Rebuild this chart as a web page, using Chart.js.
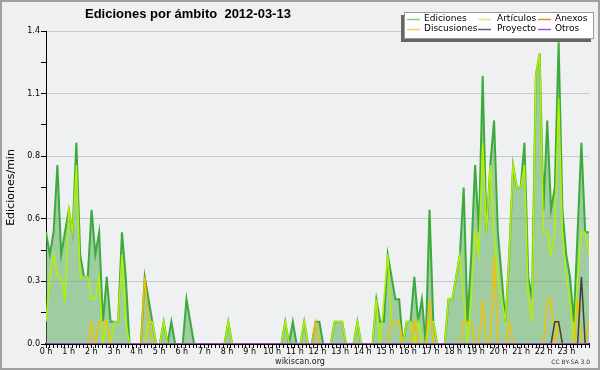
<!DOCTYPE html>
<html>
<head>
<meta charset="utf-8">
<script src="https://cdn.jsdelivr.net/npm/chart.js@4.4.1/dist/chart.umd.min.js"></script>
<style>
  html, body { margin: 0; padding: 0; background: #f0f0f0; overflow: hidden; }
</style>
</head>
<body>
<canvas id="grafico" width="600" height="370"></canvas>
<script>
// valores cada 10 min, 0 h .. 24 h (ediciones por minuto)
const ediciones = [
  0.5, 0.4, 0.5, 0.8, 0.4, 0.5, 0.6, 0.5, 0.9, 0.4,
  0.3, 0.3, 0.6, 0.4, 0.5, 0.1, 0.3, 0.1, 0.1, 0.1,
  0.5, 0.3, 0, 0, 0, 0, 0.3, 0.2, 0.1, 0,
  0, 0.1, 0, 0.1, 0, 0, 0, 0.2, 0.1, 0,
  0, 0, 0, 0, 0, 0, 0, 0, 0.1, 0,
  0, 0, 0, 0, 0, 0, 0, 0, 0, 0,
  0, 0, 0, 0.1, 0, 0.1, 0, 0, 0.1, 0,
  0, 0.1, 0.1, 0, 0, 0, 0.1, 0.1, 0.1, 0,
  0, 0, 0.1, 0, 0, 0, 0, 0.2, 0.1, 0.1,
  0.4, 0.3, 0.2, 0.2, 0, 0.1, 0.1, 0.3, 0.1, 0.2,
  0, 0.6, 0.1, 0, 0, 0, 0.2, 0.2, 0.3, 0.4,
  0.7, 0.1, 0.4, 0.8, 0.5, 1.2, 0.5, 0.8, 1.0, 0.5,
  0.3, 0.1, 0.4, 0.8, 0.7, 0.7, 0.9, 0.3, 0.2, 1.2,
  1.3, 0.6, 1.0, 0.6, 0.7, 1.35, 0.6, 0.4, 0.3, 0.1,
  0.5, 0.9, 0.5, 0.5
];
const articulos = [
  0.1, 0.3, 0.4, 0.3, 0.3, 0.2, 0.6, 0.5, 0.8, 0.3,
  0.3, 0.3, 0.2, 0.2, 0.3, 0, 0.1, 0, 0.1, 0.1,
  0.4, 0.1, 0, 0, 0, 0, 0, 0.1, 0.1, 0,
  0, 0.1, 0, 0, 0, 0, 0, 0, 0, 0,
  0, 0, 0, 0, 0, 0, 0, 0, 0.1, 0,
  0, 0, 0, 0, 0, 0, 0, 0, 0, 0,
  0, 0, 0, 0.1, 0, 0, 0, 0, 0.1, 0,
  0, 0, 0, 0, 0, 0, 0.1, 0.1, 0.1, 0,
  0, 0, 0.1, 0, 0, 0, 0, 0.2, 0, 0.2,
  0.4, 0.1, 0.1, 0.1, 0, 0.1, 0.1, 0, 0.1, 0,
  0, 0.1, 0.1, 0, 0, 0, 0.2, 0.2, 0.3, 0.4,
  0.2, 0, 0.2, 0.5, 0.4, 0.9, 0.5, 0.8, 0.5, 0.3,
  0.2, 0.1, 0.4, 0.8, 0.7, 0.7, 0.8, 0.2, 0.1, 1.2,
  1.3, 0.5, 0.5, 0.4, 0.5, 1.1, 0.5, 0.3, 0.2, 0,
  0.3, 0.5, 0.5, 0.4
];
const discusiones = [
  0, 0, 0, 0, 0, 0, 0, 0, 0, 0,
  0, 0, 0.1, 0, 0.1, 0.1, 0.1, 0, 0, 0,
  0, 0, 0, 0, 0, 0, 0.3, 0.1, 0, 0,
  0, 0, 0, 0, 0, 0, 0, 0, 0, 0,
  0, 0, 0, 0, 0, 0, 0, 0, 0, 0,
  0, 0, 0, 0, 0, 0, 0, 0, 0, 0,
  0, 0, 0, 0, 0, 0, 0, 0, 0, 0,
  0, 0.1, 0, 0, 0, 0, 0, 0, 0, 0,
  0, 0, 0, 0, 0, 0, 0, 0, 0, 0,
  0, 0.1, 0.1, 0.1, 0, 0, 0, 0.1, 0, 0,
  0, 0.2, 0, 0, 0, 0, 0, 0, 0, 0,
  0.1, 0.1, 0.1, 0, 0, 0.2, 0, 0, 0.4, 0,
  0, 0, 0.1, 0, 0, 0, 0, 0, 0, 0,
  0, 0, 0.2, 0.2, 0, 0.1, 0, 0, 0, 0,
  0.2, 0, 0, 0.1
];
const proyecto = [
  0, 0, 0, 0, 0, 0, 0, 0, 0, 0,
  0, 0, 0, 0, 0, 0, 0, 0, 0, 0,
  0, 0, 0, 0, 0, 0, 0, 0, 0, 0,
  0, 0, 0, 0, 0, 0, 0, 0, 0, 0,
  0, 0, 0, 0, 0, 0, 0, 0, 0, 0,
  0, 0, 0, 0, 0, 0, 0, 0, 0, 0,
  0, 0, 0, 0, 0, 0, 0, 0, 0, 0,
  0, 0, 0, 0, 0, 0, 0, 0, 0, 0,
  0, 0, 0, 0, 0, 0, 0, 0, 0, 0,
  0, 0, 0, 0, 0, 0, 0, 0, 0, 0,
  0, 0, 0, 0, 0, 0, 0, 0, 0, 0,
  0, 0, 0, 0, 0, 0, 0, 0, 0, 0,
  0, 0, 0, 0, 0, 0, 0, 0, 0, 0,
  0, 0, 0, 0, 0.1, 0.1, 0, 0, 0, 0,
  0, 0.3, 0, 0
];
const anexos = [
  0, 0, 0, 0, 0, 0, 0, 0, 0, 0,  0, 0, 0, 0, 0, 0, 0, 0, 0, 0,
  0, 0, 0, 0, 0, 0, 0, 0, 0, 0,  0, 0, 0, 0, 0, 0, 0, 0, 0, 0,
  0, 0, 0, 0, 0, 0, 0, 0, 0, 0,  0, 0, 0, 0, 0, 0, 0, 0, 0, 0,
  0, 0, 0, 0, 0, 0, 0, 0, 0, 0,  0, 0, 0, 0, 0, 0, 0, 0, 0, 0,
  0, 0, 0, 0, 0, 0, 0, 0, 0, 0,  0, 0, 0, 0, 0, 0, 0, 0, 0, 0,
  0, 0, 0, 0, 0, 0, 0, 0, 0, 0,  0, 0, 0, 0, 0, 0, 0, 0, 0, 0,
  0, 0, 0, 0, 0, 0, 0, 0, 0, 0,  0, 0, 0, 0, 0, 0, 0, 0, 0, 0,
  0, 0, 0, 0
];
const otros = [
  0, 0, 0, 0, 0, 0, 0, 0, 0, 0,  0, 0, 0, 0, 0, 0, 0, 0, 0, 0,
  0, 0, 0, 0, 0, 0, 0, 0, 0, 0,  0, 0, 0, 0, 0, 0, 0, 0, 0, 0,
  0, 0, 0, 0, 0, 0, 0, 0, 0, 0,  0, 0, 0, 0, 0, 0, 0, 0, 0, 0,
  0, 0, 0, 0, 0, 0, 0, 0, 0, 0,  0, 0, 0, 0, 0, 0, 0, 0, 0, 0,
  0, 0, 0, 0, 0, 0, 0, 0, 0, 0,  0, 0, 0, 0, 0, 0, 0, 0, 0, 0,
  0, 0, 0, 0, 0, 0, 0, 0, 0, 0,  0, 0, 0, 0, 0, 0, 0, 0, 0, 0,
  0, 0, 0, 0, 0, 0, 0, 0, 0, 0,  0, 0, 0, 0, 0, 0, 0, 0, 0, 0,
  0, 0, 0, 0
];

const titulo = "Ediciones por \u00e1mbito  2012-03-13";
const tituloEje = "Ediciones/min";
const yMax = 1.4;

// the samples are spread over the whole day on the axis
const horas = ediciones.map((v, i) => i * 24 / (ediciones.length - 1));
const pts = arr => arr.map((v, i) => ({ x: horas[i], y: v }));

const FONT = "'DejaVu Sans', sans-serif";

// legend: label, colour, column, row
const leyenda = [
  ["Ediciones", "#80d080", 0, 0],
  ["Art\u00edculos", "#d4f07a", 1, 0],
  ["Anexos", "#f08050", 2, 0],
  ["Discusiones", "#f0d060", 0, 1],
  ["Proyecto", "#606060", 1, 1],
  ["Otros", "#a050f0", 2, 1]
];

const decor = {
  id: "decor",
  beforeDraw(chart) {
    const { ctx, chartArea: a } = chart;
    ctx.save();
    ctx.fillStyle = "#f0f0f0";
    ctx.fillRect(0, 0, chart.width, chart.height);
    ctx.fillStyle = "#eef0f2";
    ctx.fillRect(a.left, a.top, a.right - a.left, a.bottom - a.top);
    ctx.strokeStyle = "#a0a0a0";
    ctx.lineWidth = 2;
    ctx.strokeRect(1, 1, chart.width - 2, chart.height - 2);
    ctx.restore();
  },
  afterDraw(chart) {
    const { ctx, chartArea: a } = chart;
    ctx.save();
    ctx.fillStyle = "#000";
    // title
    ctx.font = "bold 13px 'Liberation Sans', sans-serif";
    ctx.textBaseline = "alphabetic";
    ctx.textAlign = "left";
    ctx.fillText(titulo, 85, 18);
    // y axis title
    ctx.save();
    ctx.translate(14, (a.top + a.bottom) / 2);
    ctx.rotate(-Math.PI / 2);
    ctx.textAlign = "center";
    ctx.font = "11px " + FONT;
    ctx.fillText(tituloEje, 0, 0);
    ctx.restore();
    // legend box with shadow
    ctx.fillStyle = "#666";
    ctx.fillRect(401, 15, 190, 27);
    ctx.fillStyle = "#fff";
    ctx.fillRect(404, 12, 190, 27);
    ctx.strokeStyle = "#999";
    ctx.lineWidth = 1;
    ctx.strokeRect(404.5, 12.5, 189, 26);
    const colLine = [407, 478, 538];
    const colText = [424, 497, 555];
    ctx.font = "9px " + FONT;
    ctx.textBaseline = "middle";
    leyenda.forEach(([txt, col, c, r]) => {
      const y = 19 + r * 10;
      ctx.strokeStyle = col;
      ctx.lineWidth = 1.5;
      ctx.beginPath();
      ctx.moveTo(colLine[c], y + 0.5);
      ctx.lineTo(colLine[c] + 13, y + 0.5);
      ctx.stroke();
      ctx.fillStyle = "#000";
      ctx.fillText(txt, colText[c], y);
    });
    // footer
    ctx.textBaseline = "alphabetic";
    ctx.textAlign = "center";
    ctx.font = "8px " + FONT;
    ctx.fillStyle = "#222";
    ctx.fillText("wikiscan.org", 300, 364);
    ctx.textAlign = "right";
    ctx.font = "6px " + FONT;
    ctx.fillStyle = "#333";
    ctx.fillText("CC BY-SA 3.0", 590, 364);
    ctx.restore();
  }
};

const linea = (label, data, color, width, order) => ({
  label, data: pts(data), borderColor: color, borderWidth: width,
  pointRadius: 0, tension: 0, fill: false, order
});

const ed = linea("Ediciones", ediciones, "#3caa3c", 2, 6);
ed.fill = "origin";
ed.backgroundColor = "rgba(80,170,80,0.5)";

new Chart(document.getElementById("grafico"), {
  type: "line",
  data: {
    datasets: [
      ed,
      linea("Art\u00edculos", articulos, "#b4f000", 1.5, 5),
      linea("Anexos", anexos, "#f08040", 1.5, 4),
      linea("Discusiones", discusiones, "#f0c000", 1.5, 3),
      linea("Proyecto", proyecto, "#404040", 1.5, 2),
      linea("Otros", otros, "#a040f0", 1.5, 1)
    ]
  },
  options: {
    responsive: false,
    animation: false,
    devicePixelRatio: 1,
    layout: { padding: { top: 31, right: 11, left: 0, bottom: 0 } },
    plugins: { legend: { display: false }, tooltip: { enabled: false }, title: { display: false } },
    scales: {
      x: {
        type: "linear", min: 0, max: 24, z: 1,
        afterFit: s => { s.height = 26; },
        border: { color: "#000", width: 2 },
        grid: { drawOnChartArea: false, drawTicks: true, tickLength: 4, tickColor: "#000", tickWidth: 1 },
        ticks: {
          stepSize: 1 / 6, autoSkip: false, maxRotation: 0, minRotation: 0,
          padding: -1, color: "#000", font: { family: FONT, size: 8 },
          callback: v => {
            const r = Math.round(v);
            return Math.abs(v - r) < 1e-6 && r < 24 ? r + " h" : "";
          }
        }
      },
      y: {
        min: 0, max: yMax,
        afterFit: s => { s.width = 46; },
        border: { color: "#000", width: 1 },
        grid: {
          color: c => (c.index % 2 === 0 && c.index > 0) ? "#c8c8c8" : "rgba(0,0,0,0)",
          tickColor: "#000", tickLength: 5, drawTicks: true
        },
        ticks: {
          stepSize: 0.14, padding: 1, color: "#000", font: { family: FONT, size: 8 },
          callback: (v, i) => i % 2 === 0 ? v.toFixed(1) : ""
        }
      }
    }
  },
  plugins: [decor]
});
</script>
</body>
</html>
